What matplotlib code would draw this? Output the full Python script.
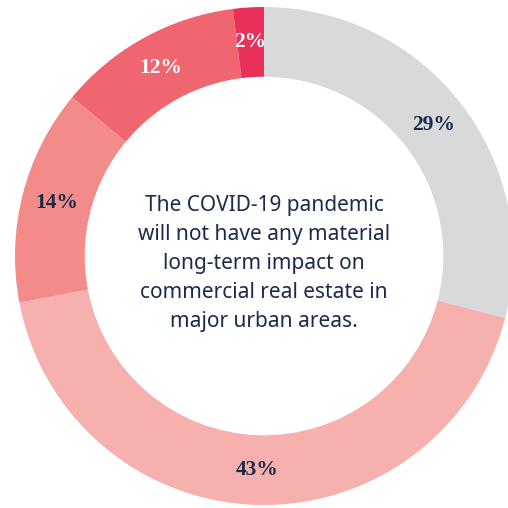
import matplotlib
matplotlib.use("Agg")
import matplotlib.pyplot as plt
import numpy as np

# data
values = [29, 43, 14, 12, 2]
labels = ["29%", "43%", "14%", "12%", "2%"]
colors = ["#d8d9db", "#f6b0ae", "#f28b89", "#ef6670", "#e8305a"]
label_colors = ["#1b2b4b", "#1b2b4b", "#1b2b4b", "white", "white"]
center_text = ("The COVID-19 pandemic\nwill not have any material\n"
               "long-term impact on\ncommercial real estate in\nmajor urban areas.")

navy = "#1b2b4b"

fig = plt.figure(figsize=(5.08, 5.08), dpi=100)
ax = fig.add_axes([0, 0, 1, 1])

wedges, texts = ax.pie(values, colors=colors, startangle=90, counterclock=False,
                       radius=1.0, wedgeprops=dict(width=0.28, linewidth=0))

# percentage labels in the middle of the ring
total = sum(values)
start = 90.0
r_lab = 0.86
for v, lab, c in zip(values, labels, label_colors):
    mid = start - v / total * 360 / 2
    start -= v / total * 360
    ax.text(r_lab * np.cos(np.radians(mid)), r_lab * np.sin(np.radians(mid)), lab,
            ha="center", va="center", color=c, fontsize=15.5, fontweight="bold",
            family="Liberation Serif")

ax.text(0.0, -0.03, center_text, ha="center", va="center", color=navy,
        fontsize=15, family="Noto Sans", linespacing=1.5)

# place the donut: center at pixel (264, 256), radius 249 px
s = 249.0
ax.set_xlim(-264 / s, (508 - 264) / s)
ax.set_ylim(-(508 - 256) / s, 256 / s)
ax.set_aspect("auto")
ax.axis("off")

fig.savefig("out.png", dpi=100, facecolor="white")
